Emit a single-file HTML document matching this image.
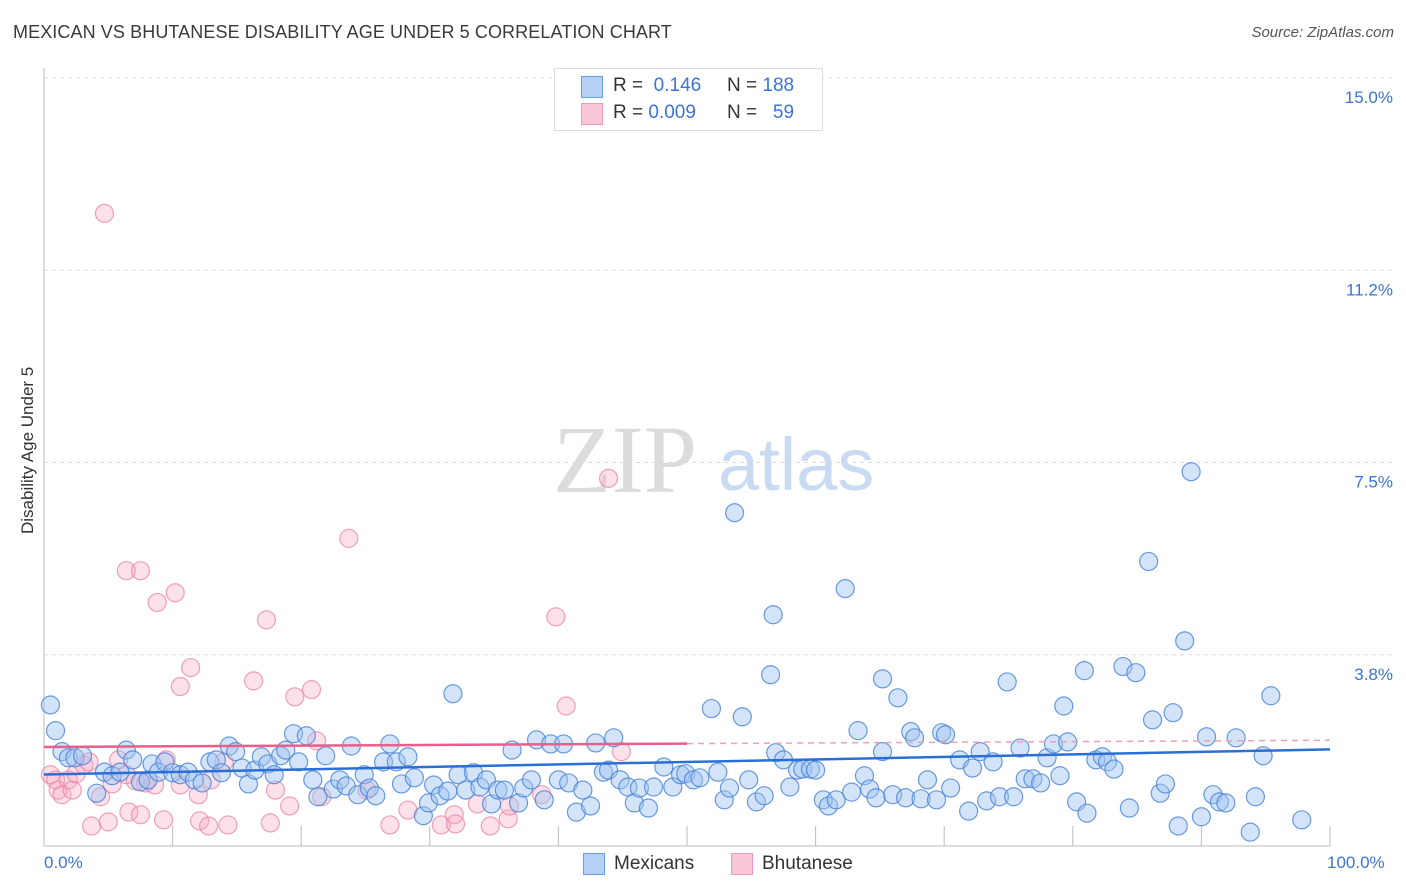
<!DOCTYPE html>
<html><head><meta charset="utf-8"><style>
body{margin:0;background:#fff;font-family:"Liberation Sans",sans-serif}
#wrap{position:relative;width:1406px;height:892px;overflow:hidden}
.t{position:absolute;white-space:nowrap}
</style></head><body>
<div id="wrap">
<div class="t" style="left:13px;top:22px;font-size:18px;color:#3a3a3a;letter-spacing:0.1px">MEXICAN VS BHUTANESE DISABILITY AGE UNDER 5 CORRELATION CHART</div>
<div class="t" style="right:12px;top:24px;font-size:15px;color:#555;font-style:italic">Source: ZipAtlas.com</div>
<svg id="plot" width="1406" height="892" style="position:absolute;left:0;top:0"></svg>
</div>
<script>
const blueX=[0.5,0.9,1.4,1.9,2.4,3.0,4.1,4.7,5.3,5.9,6.4,6.9,7.5,8.1,8.4,8.9,9.4,10.0,10.6,11.2,11.7,12.3,12.9,13.4,13.8,14.4,14.9,15.4,15.9,16.4,16.9,17.4,17.9,18.4,18.8,19.4,19.8,20.4,20.9,21.3,21.9,22.5,23.0,23.5,23.9,24.4,24.9,25.3,25.8,26.4,26.9,27.4,27.8,28.3,28.8,29.5,29.9,30.3,30.8,31.4,31.8,32.2,32.8,33.4,33.9,34.4,34.8,35.3,35.8,36.4,36.9,37.3,37.9,38.3,38.9,39.4,40.0,40.4,40.8,41.4,41.9,42.5,42.9,43.5,43.9,44.3,44.8,45.4,45.9,46.3,47.0,47.4,48.2,48.9,49.5,49.9,50.5,51.0,51.9,52.4,52.9,53.3,54.3,54.8,55.4,56.0,56.5,56.7,53.7,56.9,57.5,58.0,58.6,59.0,59.6,60.0,60.6,61.0,61.6,62.3,62.8,63.3,63.8,64.2,64.7,65.2,65.2,66.0,66.4,67.0,67.4,67.7,68.2,68.7,69.4,69.8,70.1,70.5,71.2,71.9,72.2,72.8,73.3,73.8,74.3,74.9,75.4,75.9,76.3,76.9,77.5,78.0,78.5,79.0,79.3,79.6,80.3,80.9,81.1,81.8,82.3,82.7,83.2,83.9,84.4,84.9,85.9,86.2,86.8,87.2,87.8,88.2,88.7,89.2,90.0,90.4,90.9,91.4,91.9,92.7,93.8,94.2,94.8,95.4,97.8];
const blueY=[2.77,2.27,1.86,1.74,1.74,1.78,1.05,1.46,1.39,1.46,1.89,1.70,1.27,1.31,1.62,1.46,1.66,1.45,1.41,1.46,1.31,1.25,1.66,1.70,1.45,1.97,1.86,1.54,1.23,1.50,1.76,1.62,1.41,1.78,1.89,2.21,1.66,2.17,1.31,0.98,1.78,1.13,1.31,1.19,1.97,1.02,1.41,1.15,1.00,1.66,2.01,1.66,1.23,1.76,1.35,0.61,0.86,1.21,1.00,1.09,2.99,1.41,1.11,1.45,1.17,1.31,0.84,1.11,1.11,1.89,0.86,1.15,1.31,2.09,0.92,2.01,1.31,2.01,1.25,0.68,1.11,0.80,2.03,1.46,1.50,2.13,1.31,1.17,0.86,1.15,0.76,1.17,1.56,1.17,1.41,1.43,1.31,1.35,2.70,1.46,0.92,1.15,2.54,1.31,0.88,1.00,3.36,4.53,6.52,1.84,1.70,1.17,1.50,1.52,1.52,1.50,0.92,0.80,0.92,5.04,1.07,2.27,1.39,1.13,0.96,3.28,1.86,1.02,2.91,0.96,2.25,2.13,0.94,1.31,0.92,2.23,2.19,1.15,1.70,0.70,1.54,1.86,0.90,1.66,0.98,3.22,0.98,1.93,1.33,1.33,1.25,1.74,2.01,1.39,2.75,2.05,0.88,3.44,0.66,1.70,1.76,1.66,1.52,3.52,0.76,3.40,5.57,2.48,1.05,1.23,2.62,0.41,4.02,7.32,0.59,2.15,1.02,0.88,0.86,2.13,0.29,0.98,1.78,2.95,0.53];
const pinkX=[4.7,43.9,23.7,6.4,7.5,10.2,8.8,39.8,17.3,11.4,10.6,16.3,19.5,20.8,40.6,21.2,44.9,0.5,0.9,1.1,1.4,1.9,2.2,2.5,3.1,3.5,4.4,5.3,5.8,6.4,7.1,7.9,8.6,9.5,10.6,12.0,13.0,14.0,18.0,19.1,21.6,25.1,26.9,28.3,30.9,31.9,33.7,36.1,36.2,38.7,3.7,5.0,6.6,7.5,9.3,12.1,12.8,14.3,17.6,32.0,34.7];
const pinkY=[12.36,7.19,6.02,5.39,5.39,4.96,4.77,4.49,4.43,3.50,3.13,3.24,2.93,3.07,2.75,2.07,1.86,1.41,1.31,1.11,1.02,1.31,1.11,1.43,1.60,1.66,0.98,1.23,1.70,1.41,1.29,1.25,1.21,1.70,1.21,1.02,1.31,1.66,1.11,0.80,0.98,1.11,0.43,0.72,0.43,0.63,0.84,0.55,0.80,1.02,0.41,0.49,0.68,0.63,0.53,0.51,0.41,0.43,0.47,0.45,0.41];
const yTicks=[3.75,7.5,11.25,15];
const yTickLabels=["3.8%","7.5%","11.2%","15.0%"];
const xTicks=[0,10,20,30,40,50,60,70,80,90,100];

const X0=44,X1=1330,Y0=847,Y15=78;
const sx=v=>X0+(X1-X0)*v/100;
const sy=v=>Y0-(Y0-Y15)*v/15;
const svg=document.getElementById('plot');
const NS='http://www.w3.org/2000/svg';
function mk(tag,attrs,parent){const e=document.createElementNS(NS,tag);for(const k in attrs)e.setAttribute(k,attrs[k]);(parent||svg).appendChild(e);return e;}

yTicks.forEach((t,i)=>{
  const g=mk('line',{x1:X0,x2:1395,y1:sy(t),y2:sy(t),stroke:'#ddd','stroke-dasharray':'4,4'});
  
  
  const tx=mk('text',{x:1393,y:sy(t)+25,'text-anchor':'end','font-size':'17',fill:'#3b74d6','font-family':'Liberation Sans, sans-serif'});
  tx.textContent=yTickLabels[i];
  
  
});
const ax=mk('line',{x1:X0,x2:X0,y1:68,y2:846,stroke:'#bbb'});


const axx=mk('line',{x1:X0,x2:X1,y1:846,y2:846,stroke:'#bbb'});


xTicks.forEach(t=>{
  const l=mk('line',{x1:sx(t),x2:sx(t),y1:826,y2:846,stroke:'#bbb'});
  
  
});
// watermark
const wm1=mk('text',{x:553,y:492,'font-size':'96','font-family':'Liberation Serif, serif',fill:'#dcdcdc'});wm1.textContent='ZIP';


const wm2=mk('text',{x:718,y:490,'font-size':'74','font-family':'Liberation Sans, sans-serif',fill:'#c9daf3'});wm2.textContent='atlas';



function drawPts(xs,ys,fill,stroke,name){
  xs.forEach((x,i)=>{
    const c=mk('circle',{cx:sx(x),cy:sy(ys[i]),r:9,fill:fill,stroke:stroke,'stroke-width':1.2});
    
    
  });
}
drawPts(pinkX,pinkY,'rgba(246,170,196,0.35)','rgba(236,130,165,0.75)','bhutanese-point');
drawPts(blueX,blueY,'rgba(160,196,240,0.45)','rgba(70,130,215,0.8)','mexican-point');

function fit(xs,ys){const n=xs.length;let mx=0,my=0;xs.forEach((x,i)=>{mx+=x;my+=ys[i]});mx/=n;my/=n;let a=0,b=0;xs.forEach((x,i)=>{a+=(x-mx)*(ys[i]-my);b+=(x-mx)*(x-mx)});const s=a/b;return [my-s*mx,s];}
const [pb,ps]=fit(pinkX,pinkY);
let l1=mk('line',{x1:sx(0),x2:sx(50),y1:sy(pb),y2:sy(pb+ps*50),stroke:'#e8608a','stroke-width':2.5});


let l2=mk('line',{x1:sx(50),x2:sx(100),y1:sy(pb+ps*50),y2:sy(pb+ps*100),stroke:'#eea0b8','stroke-width':1.5,'stroke-dasharray':'6,5'});


const [bb,bs]=fit(blueX,blueY);
let l3=mk('line',{x1:sx(0),x2:sx(100),y1:sy(bb),y2:sy(bb+bs*100),stroke:'#2a6fd6','stroke-width':2.5});


</script>
<div class="t" style="left:-52px;top:444px;transform:rotate(-90deg);font-size:17px;color:#333;width:160px;text-align:center">Disability Age Under 5</div>
<div class="t" style="left:44px;top:853px;font-size:17px;color:#3b74d6">0.0%</div>
<div class="t" style="left:1327px;top:853px;font-size:17px;color:#3b74d6">100.0%</div>
<div style="position:absolute;left:554px;top:68px;width:267px;height:61px;border:1px solid #ddd;background:#fff;font-size:19px">
 <div style="position:absolute;left:26px;top:7px;width:20px;height:20px;background:#b5d0f4;border:1px solid #6a9fe0"></div>
 <div class="t" style="left:58px;top:6px;color:#333">R = <span style="color:#3b74d6">&nbsp;0.146</span></div>
 <div class="t" style="left:172px;top:6px;color:#333">N = <span style="color:#3b74d6">188</span></div>
 <div style="position:absolute;left:26px;top:34px;width:20px;height:20px;background:#f8c6d6;border:1px solid #ec9ab6"></div>
 <div class="t" style="left:58px;top:33px;color:#333">R = <span style="color:#3b74d6">0.009</span></div>
 <div class="t" style="left:172px;top:33px;color:#333">N = <span style="color:#3b74d6">&nbsp;&nbsp;59</span></div>
</div>
<div style="position:absolute;left:583px;top:853px">
 <div style="position:absolute;left:0;top:0;width:20px;height:20px;background:#b5d0f4;border:1px solid #6a9fe0"></div>
 <div class="t" style="left:31px;top:0;font-size:19px;color:#333">Mexicans</div>
</div>
<div style="position:absolute;left:731px;top:853px">
 <div style="position:absolute;left:0;top:0;width:20px;height:20px;background:#f8c6d6;border:1px solid #ec9ab6"></div>
 <div class="t" style="left:31px;top:0;font-size:19px;color:#333">Bhutanese</div>
</div>
</body></html>
